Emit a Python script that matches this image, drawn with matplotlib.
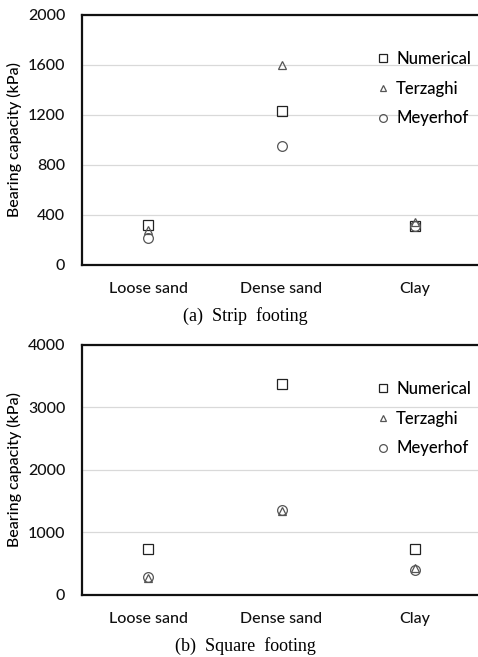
import numpy as np
import matplotlib
matplotlib.use("Agg")
import matplotlib.pyplot as plt

plt.rcParams['font.family'] = ['Lato', 'DejaVu Sans']

soils = ["Loose sand", "Dense sand", "Clay"]

# (a) strip footing, kPa
strip_numerical = [320, 1232, 315]
strip_terzaghi = [280, 1600, 344]
strip_meyerhof = [218, 952, 310]

# (b) square footing, kPa
square_numerical = [736, 3375, 736]
square_terzaghi = [270, 1350, 437]
square_meyerhof = [290, 1360, 395]

fig = plt.figure(figsize=(4.78, 6.57), dpi=100)

def draw_panel(ax, num, ter, mey, ymax, ystep, caption):
    x = np.arange(len(soils))
    ax.plot(x, num, ls="none", marker="s", ms=7, mfc="none", mec="#222222", mew=0.9, label="Numerical")
    ax.plot(x, ter, ls="none", marker="^", ms=6, mfc="none", mec="#555555", mew=0.9, label="Terzaghi")
    ax.plot(x, mey, ls="none", marker="o", ms=7, mfc="none", mec="#555555", mew=0.9, label="Meyerhof")
    ax.set_xlim(-0.5, 2.5)
    ax.set_ylim(0, ymax)
    ax.set_yticks(np.arange(0, ymax + 1, ystep))
    ax.set_xticks(x)
    ax.set_xticklabels(soils)
    ax.tick_params(length=0, labelsize=11.5, colors="#111111")
    for lab in ax.get_xticklabels() + ax.get_yticklabels():
        lab.set_fontweight("medium")
    ax.tick_params(axis="y", pad=12)
    ax.tick_params(axis="x", pad=12)
    ax.grid(axis="y", color="#d9d9d9", lw=0.9)
    ax.set_axisbelow(True)
    ax.spines["right"].set_visible(False)
    for s in ["left", "top", "bottom"]:
        ax.spines[s].set_linewidth(1.6)
        ax.spines[s].set_color("#111111")
    ax.set_ylabel("Bearing capacity (kPa)", fontsize=11.5, fontweight="medium", labelpad=4)
    leg = ax.legend(loc="upper left", bbox_to_anchor=(0.72, 0.89), frameon=False, fontsize=12,
                    handlelength=0.6, handletextpad=0.5, labelspacing=0.83, borderpad=0,
                    markerscale=0.8)
    for t in leg.get_texts():
        t.set_fontweight("medium")
    ax.text(0.41, -0.205, caption, transform=ax.transAxes, ha="center", va="center",
            family="Liberation Serif", fontsize=13)

ax1 = fig.add_axes([0.1715, 0.5967, 0.835, 0.3805])
draw_panel(ax1, strip_numerical, strip_terzaghi, strip_meyerhof, 2000, 400, "(a)  Strip  footing")

ax2 = fig.add_axes([0.1715, 0.0944, 0.835, 0.3805])
draw_panel(ax2, square_numerical, square_terzaghi, square_meyerhof, 4000, 1000, "(b)  Square  footing")

fig.savefig("out.png", dpi=100)
